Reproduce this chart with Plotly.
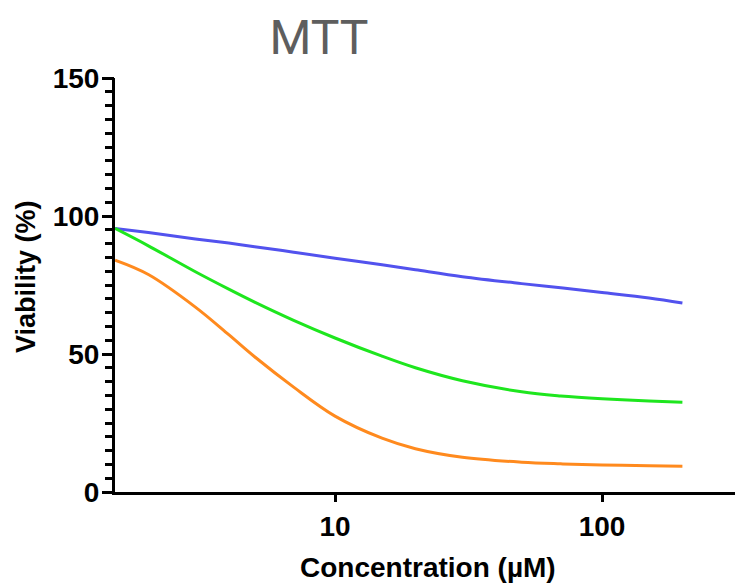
import plotly.graph_objects as go

# Concentration grid (µM) and measured viability (%) for each treatment
concentration = [1.5, 2, 3, 4, 5, 7, 10, 15, 20, 30, 50, 70, 100, 150, 200]
viability_blue = [95.5, 94.0, 91.7, 90.2, 88.9, 86.9, 84.7, 82.3, 80.5, 78.0, 75.5, 74.0, 72.3, 70.3, 68.5]
viability_green = [95.5, 89.2, 79.8, 73.5, 68.8, 62.2, 55.8, 49.2, 45.0, 40.3, 36.3, 34.8, 33.8, 33.0, 32.5]
viability_orange = [84.0, 78.8, 67.0, 57.0, 49.0, 38.0, 27.5, 19.5, 15.7, 12.6, 10.8, 10.2, 9.8, 9.5, 9.3]

x_ticks = [10, 100]
y_ticks = [0, 50, 100, 150]
y_minor_step = 5

series = [
    (viability_blue, "#5252EE"),
    (viability_green, "#1EE61E"),
    (viability_orange, "#FF8A1E"),
]

fig = go.Figure()
for values, color in series:
    fig.add_trace(go.Scatter(
        x=concentration, y=values, mode="lines",
        line=dict(color=color, width=3, shape="spline", smoothing=1.0),
        showlegend=False, hoverinfo="skip",
    ))

# invisible trace that anchors the overlaid axis carrying the long major ticks
fig.add_trace(go.Scatter(x=[concentration[0]], y=[y_ticks[0]], yaxis="y2", mode="markers",
                         marker=dict(opacity=0), showlegend=False, hoverinfo="skip"))

# every 5 % gets a short tick; only the multiples of 50 are labelled
y_tick_positions = list(range(y_ticks[0], y_ticks[-1] + 1, y_minor_step))
y_tick_text = [f"<b>{v}</b>" if v in y_ticks else "" for v in y_tick_positions]

tick_font = dict(family="Liberation Sans, Arial", size=28, color="black")

fig.update_layout(
    width=735, height=584,
    margin=dict(l=115, r=0, t=78, b=92),
    paper_bgcolor="white", plot_bgcolor="white",
    title=dict(text="MTT", x=319 / 735, xanchor="center", y=1 - 37 / 584, yanchor="middle",
               font=dict(family="Roboto, Liberation Sans, Arial", size=48, color="#5E5E5E")),
    xaxis=dict(
        type="log", range=[0.1761, 2.498],
        tickvals=x_ticks, ticktext=[f"<b>{v}</b>" for v in x_ticks],
        showgrid=False, zeroline=False,
        showline=True, linecolor="black", linewidth=3,
        ticks="outside", ticklen=7, tickwidth=3, tickcolor="black",
        tickfont=tick_font,
    ),
    yaxis=dict(
        range=[y_ticks[0], y_ticks[-1]],
        tickmode="array", tickvals=y_tick_positions, ticktext=y_tick_text,
        showgrid=False, zeroline=False,
        showline=True, linecolor="black", linewidth=3,
        ticks="outside", ticklen=7, tickwidth=3, tickcolor="black",
        tickfont=tick_font,
    ),
    yaxis2=dict(
        range=[y_ticks[0], y_ticks[-1]],
        tickmode="array", tickvals=y_ticks,
        overlaying="y", side="left",
        showgrid=False, zeroline=False, showline=False, showticklabels=False,
        ticks="outside", ticklen=12, tickwidth=3, tickcolor="black",
    ),
    annotations=[
        dict(text="<b>Concentration (µM)</b>", xref="paper", yref="paper",
             x=(428 - 115) / 620, y=-(567 - 492) / 414, xanchor="center", yanchor="middle",
             showarrow=False,
             font=dict(family="Liberation Sans, Arial", size=28, color="black")),
        dict(text="<b>Viability (%)</b>", xref="paper", yref="paper",
             x=-(115 - 26) / 620, y=(492 - 277) / 414, xanchor="center", yanchor="middle",
             textangle=-90, showarrow=False,
             font=dict(family="Liberation Sans, Arial", size=27, color="black")),
    ],
)

fig.write_html("out.html")
